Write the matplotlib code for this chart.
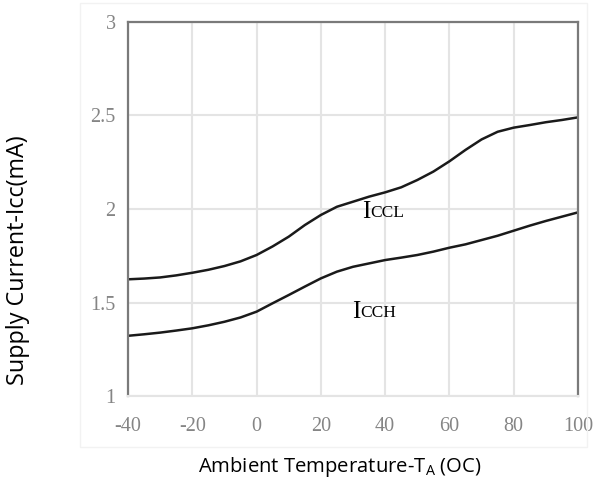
import matplotlib
matplotlib.use("Agg")
import matplotlib.pyplot as plt
from matplotlib.patches import Rectangle

# ambient temperature (deg C)
temp = [-40, -35, -30, -25, -20, -15, -10, -5, 0, 5, 10, 15, 20, 25, 30,
        35, 40, 45, 50, 55, 60, 65, 70, 75, 80, 85, 90, 95, 100]

# supply current, output low (mA)
iccl = [1.624, 1.628, 1.634, 1.645, 1.659, 1.675, 1.695, 1.720, 1.754, 1.800,
        1.852, 1.914, 1.968, 2.012, 2.039, 2.066, 2.089, 2.116, 2.155, 2.200,
        2.255, 2.316, 2.372, 2.413, 2.435, 2.449, 2.464, 2.476, 2.490]

# supply current, output high (mA)
icch = [1.322, 1.330, 1.339, 1.350, 1.362, 1.378, 1.397, 1.420, 1.451, 1.496,
        1.540, 1.585, 1.629, 1.665, 1.691, 1.709, 1.727, 1.740, 1.754, 1.772,
        1.793, 1.811, 1.834, 1.857, 1.884, 1.911, 1.936, 1.959, 1.982]

x_ticks = [-40, -20, 0, 20, 40, 60, 80, 100]
y_ticks = [1, 1.5, 2, 2.5, 3]
y_tick_labels = ['1', '1.5', '2', '2.5', '3']

fig = plt.figure(figsize=(5.96, 4.82), dpi=100)
ax = fig.add_axes([0.2148, 0.1784, 0.7550, 0.7760])

# faint outer frame of the chart area
fig.patches.append(Rectangle((80 / 596, 1 - 447 / 482), 507 / 596, 444 / 482,
                             transform=fig.transFigure, fill=False,
                             edgecolor='#f2f2f2', linewidth=1.0))

ax.plot(temp, iccl, color='#1a1a1a', linewidth=1.8)
ax.plot(temp, icch, color='#1a1a1a', linewidth=1.8)

ax.set_xlim(-40, 100)
ax.set_ylim(1, 3)
ax.set_xticks(x_ticks)
ax.set_yticks(y_ticks)
ax.set_xticklabels([str(t) for t in x_ticks])
ax.set_yticklabels(y_tick_labels)

ax.grid(True, color='#e4e4e4', linewidth=1.5)
ax.set_axisbelow(True)
ax.tick_params(length=0, labelsize=14.5, colors='#858585')
ax.tick_params(axis='x', pad=15)
ax.tick_params(axis='y', pad=9)
for lbl in ax.get_xticklabels() + ax.get_yticklabels():
    lbl.set_family('Liberation Serif')

for side in ['left', 'top', 'right']:
    ax.spines[side].set_color('#7a7a7a')
    ax.spines[side].set_linewidth(1.6)
ax.spines['bottom'].set_color('#e4e4e4')
ax.spines['bottom'].set_linewidth(1.5)

# curve labels (I + small caps subscript)
ax.text(32.9, 1.984, 'I', fontsize=18, family='Liberation Serif', va='center', ha='left')
ax.text(35.5, 1.978, 'CCL', fontsize=12.5, family='Liberation Serif', va='center', ha='left')
ax.text(29.8, 1.449, 'I', fontsize=18, family='Liberation Serif', va='center', ha='left')
ax.text(32.4, 1.443, 'CCH', fontsize=12.5, family='Liberation Serif', va='center', ha='left')

fig.text(340 / 596, 1 - 467 / 482,
         r'Ambient Temperature-T$_{\mathregular{A}}$ (OC)',
         fontsize=14.6, family='Open Sans', ha='center', va='center')
fig.text(18 / 596, 1 - 260 / 482, 'Supply Current-Icc(mA)',
         fontsize=16.8, family='Open Sans', ha='center', va='center', rotation=90)

fig.savefig('out.png', dpi=100)
